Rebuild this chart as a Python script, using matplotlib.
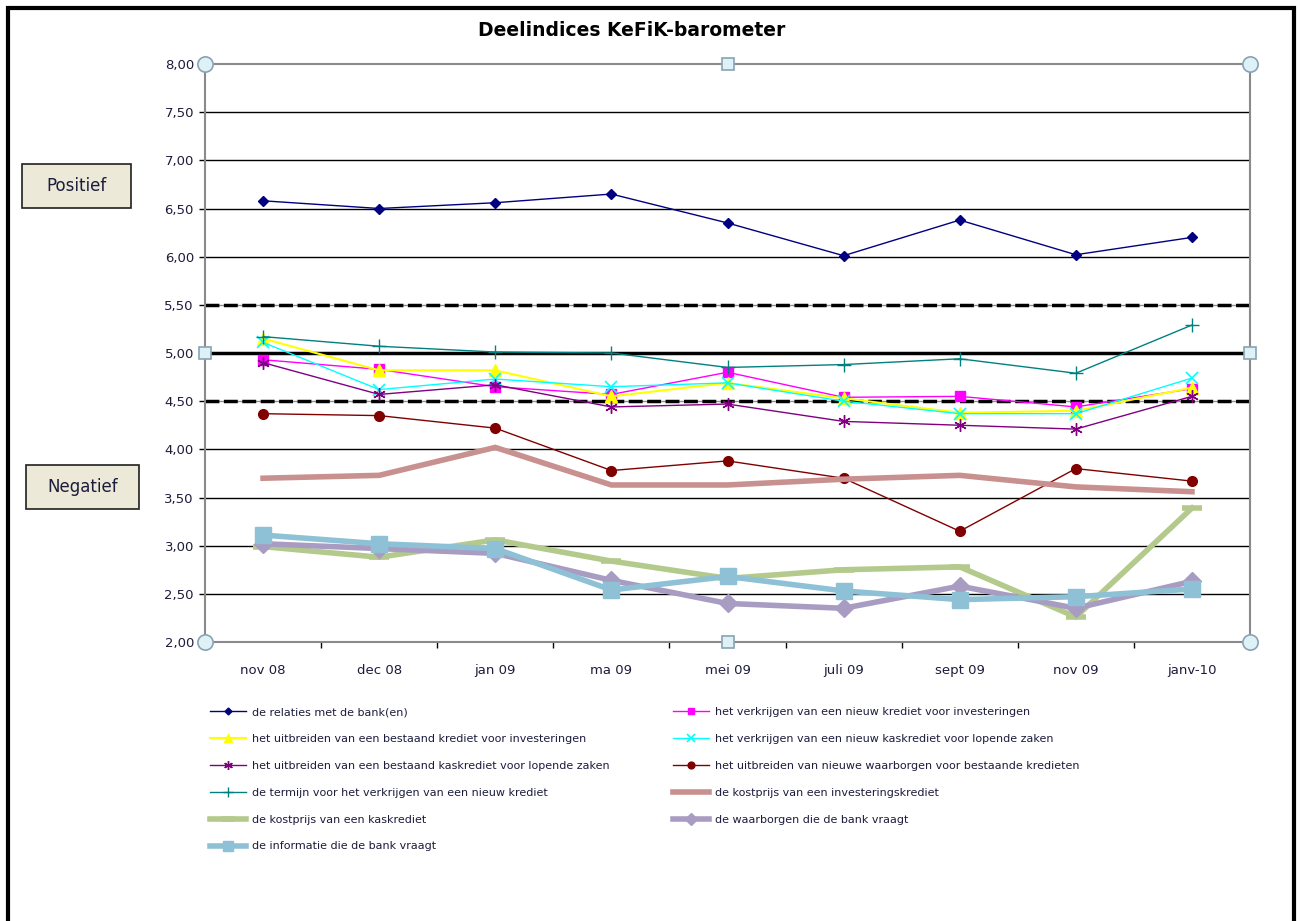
import matplotlib
matplotlib.use("Agg")
import matplotlib.pyplot as plt
from matplotlib.patches import Rectangle

categories = ['nov 08', 'dec 08', 'jan 09', 'ma 09', 'mei 09', 'juli 09', 'sept 09', 'nov 09', 'janv-10']

relaties      = [6.58, 6.50, 6.56, 6.65, 6.35, 6.01, 6.38, 6.02, 6.20]
nieuw_inv     = [4.93, 4.83, 4.65, 4.57, 4.80, 4.54, 4.55, 4.44, 4.63]
uitbr_inv     = [5.15, 4.82, 4.82, 4.55, 4.69, 4.53, 4.38, 4.40, 4.64]
nieuw_kas     = [5.11, 4.62, 4.73, 4.65, 4.69, 4.50, 4.37, 4.37, 4.74]
uitbr_kas     = [4.90, 4.57, 4.67, 4.44, 4.47, 4.29, 4.25, 4.21, 4.55]
waarborgen_nw = [4.37, 4.35, 4.22, 3.78, 3.88, 3.70, 3.15, 3.80, 3.67]
termijn       = [5.17, 5.07, 5.01, 5.00, 4.85, 4.88, 4.94, 4.79, 5.29]
kost_inv      = [3.70, 3.73, 4.02, 3.63, 3.63, 3.69, 3.73, 3.61, 3.56]
kost_kas      = [2.99, 2.88, 3.06, 2.84, 2.66, 2.75, 2.78, 2.26, 3.39]
waarborgen    = [3.02, 2.97, 2.92, 2.64, 2.40, 2.35, 2.58, 2.35, 2.63]
informatie    = [3.11, 3.02, 2.97, 2.54, 2.68, 2.53, 2.44, 2.47, 2.55]

labels = [
    'de relaties met de bank(en)',
    'het verkrijgen van een nieuw krediet voor investeringen',
    'het uitbreiden van een bestaand krediet voor investeringen',
    'het verkrijgen van een nieuw kaskrediet voor lopende zaken',
    'het uitbreiden van een bestaand kaskrediet voor lopende zaken',
    'het uitbreiden van nieuwe waarborgen voor bestaande kredieten',
    'de termijn voor het verkrijgen van een nieuw krediet',
    'de kostprijs van een investeringskrediet',
    'de kostprijs van een kaskrediet',
    'de waarborgen die de bank vraagt',
    'de informatie die de bank vraagt',
]
yticks = [2.0, 2.5, 3.0, 3.5, 4.0, 4.5, 5.0, 5.5, 6.0, 6.5, 7.0, 7.5, 8.0]
ytick_labels = [f"{v:.2f}".replace('.', ',') for v in yticks]

series = [relaties, nieuw_inv, uitbr_inv, nieuw_kas, uitbr_kas, waarborgen_nw,
          termijn, kost_inv, kost_kas, waarborgen, informatie]
styles = [
    dict(color='#000080', lw=1.0, marker='D', ms=5),
    dict(color='#FF00FF', lw=1.0, marker='s', ms=7),
    dict(color='#FFFF00', lw=1.5, marker='^', ms=8),
    dict(color='#00FFFF', lw=1.0, marker='x', ms=8, mew=1.2),
    dict(color='#800080', lw=1.0, marker=(6, 2, 0), ms=9, mew=1.0),
    dict(color='#800000', lw=1.0, marker='o', ms=7),
    dict(color='#008080', lw=1.0, marker='+', ms=10, mew=1.0),
    dict(color='#C8908E', lw=4.0),
    dict(color='#B3CA8C', lw=4.0, marker='_', ms=14, mew=4),
    dict(color='#A99CC2', lw=4.0, marker='D', ms=9),
    dict(color='#8EC1D5', lw=4.0, marker='s', ms=11),
]

txt_color = '#1c1c3c'
fig = plt.figure(figsize=(13, 9.21), dpi=100)
ax = fig.add_axes([205/1300, 1-642/921, 1045/1300, 578/921])

x = list(range(len(categories)))
# grid lines
for v in [2.5, 3.0, 3.5, 4.0, 6.0, 6.5, 7.0, 7.5]:
    ax.axhline(v, color='black', lw=1.0, zorder=1)
ax.axhline(5.0, color='black', lw=2.5, zorder=1)
for v in [4.5, 5.5]:
    ax.axhline(v, color='#909090', lw=1.0, zorder=1)
    ax.axhline(v, color='black', lw=2.5, dashes=(4, 1.3), zorder=1)

handles = []
for vals, st, lab in zip(series, styles, labels):
    h, = ax.plot(x, vals, label=lab, zorder=3, solid_joinstyle='miter', **st)
    handles.append(h)

ax.set_xlim(-0.5, len(categories) - 0.5)
ax.set_ylim(2.0, 8.0)
ax.set_yticks(yticks)
ax.set_yticklabels(ytick_labels, fontsize=9.5, color=txt_color)
ax.set_xticks(x)
ax.set_xticklabels(categories, fontsize=9.5, color=txt_color)
ax.set_xticks([i + 0.5 for i in range(len(categories) - 1)], minor=True)
ax.tick_params(axis='x', which='major', length=0, pad=16)
ax.tick_params(axis='x', which='minor', length=4, width=1, color='black', direction='out')
ax.tick_params(axis='y', length=4, width=1, color='black', direction='out', pad=4)
for s in ax.spines.values():
    s.set_color('#8a8a8a')
    s.set_linewidth(1.5)

# selection handles (as in the reference screenshot)
hc = dict(transform=ax.transAxes, clip_on=False, zorder=10, mfc='#DDF1F7', mec='#8AA3B3', mew=1.2)
for (px, py) in [(0, 0), (1, 0), (0, 1), (1, 1)]:
    ax.plot([px], [py], marker='o', ms=11, **hc)
for (px, py) in [(0.5, 0), (0.5, 1), (0, 0.5), (1, 0.5)]:
    ax.plot([px], [py], marker='s', ms=8, **hc)

fig.text(632/1300, 1-30/921, 'Deelindices KeFiK-barometer', ha='center', va='center',
         fontsize=13.5, fontweight='bold', color='black')

# Positief / Negatief boxes
for (x0, y0, x1, y1, t) in [(22, 164, 131, 208, 'Positief'), (26, 465, 139, 509, 'Negatief')]:
    fig.patches.append(Rectangle((x0/1300, 1-y1/921), (x1-x0)/1300, (y1-y0)/921,
                                 transform=fig.transFigure, facecolor='#ECE9D8',
                                 edgecolor='#202020', lw=1.2))
    fig.text((x0+x1)/2/1300, 1-(y0+y1)/2/921, t, ha='center', va='center',
             fontsize=12, color=txt_color)

# outer frame
fig.patches.append(Rectangle((8/1300, -0.05), 1286/1300, 1.05 - 8/921,
                             transform=fig.transFigure, fill=False,
                             edgecolor='black', lw=3))

# legend in two columns, Excel row-wise order
leg_kw = dict(frameon=False, fontsize=8, handlelength=3.2, handletextpad=0.6,
              labelspacing=1.52, borderpad=0, borderaxespad=0, loc='upper left',
              labelcolor=txt_color, markerscale=0.7)
col1 = handles[0::2]
col2 = handles[1::2]
fig.legend(col1, [h.get_label() for h in col1], bbox_to_anchor=(210/1300, 1-707/921), **leg_kw)
fig.legend(col2, [h.get_label() for h in col2], bbox_to_anchor=(673/1300, 1-707/921), **leg_kw)

fig.savefig('out.png', dpi=100)
